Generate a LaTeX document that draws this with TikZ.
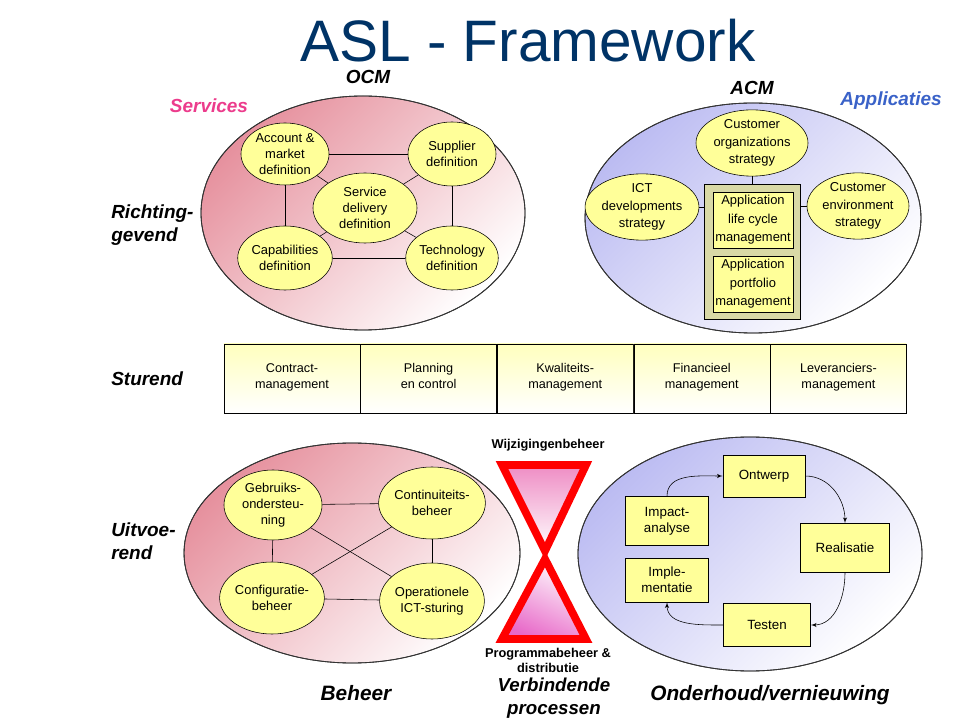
\documentclass[tikz,border=0pt]{standalone}
\usepackage{fontspec}
\setmainfont{Liberation Sans}
\usetikzlibrary{shapes,arrows,positioning}
\definecolor{titelblauw}{RGB}{0,51,102}
\definecolor{geel}{RGB}{255,255,153}
\definecolor{lichtgeel}{RGB}{255,255,190}
\definecolor{roze}{RGB}{230,145,158}
\definecolor{lila}{RGB}{188,188,242}
\definecolor{kaki}{RGB}{217,217,166}
\definecolor{servroze}{RGB}{236,60,140}
\definecolor{appblauw}{RGB}{58,98,200}
\definecolor{zandloper}{RGB}{238,140,196}
\definecolor{zandloper2}{RGB}{232,104,200}

\begin{document}
\begin{tikzpicture}[x=0.025cm,y=-0.025cm]
\tikzset{bol/.style = {shape=ellipse,draw,fill=geel,inner sep=0pt,align=center,font=\fontsize{9.2}{11.3}\selectfont}}
\tikzset{blok/.style = {shape=rectangle,draw,fill=geel,inner sep=0pt,align=center,font=\fontsize{9.5}{11.3}\selectfont}}
\tikzset{cel/.style = {draw,minimum width=3.4cm,minimum height=1.73cm,top color=lichtgeel,bottom color=white,align=center,inner sep=0pt,font=\fontsize{9}{11.3}\selectfont,execute at begin node=\strut,execute at end node=\strut}}
\tikzset{kop/.style = {inner sep=0pt,font=\fontsize{13.5}{16.3}\selectfont\bfseries\itshape}}
\tikzset{veld/.style = {draw=black!80,line width=0.6pt}}
\tikzset{pijl/.style = {->,> = latex'}}
\useasboundingbox (0,0) rectangle (960,720);

% title
\node[anchor=base,inner sep=0pt,text=titelblauw,font=\fontsize{41.6}{48}\selectfont] (titel) at (528,62) {ASL - Framework};

% large fields
\shade[veld,bottom color=white,top color=roze,shading angle=45] (363,213) ellipse [x radius=162,y radius=117];
\shade[veld,bottom color=white,top color=lila,shading angle=45] (753,218) ellipse [x radius=168,y radius=115];
\shade[veld,bottom color=white,top color=roze,shading angle=45] (352,553) ellipse [x radius=168,y radius=110];
\shade[veld,bottom color=white,top color=lila,shading angle=45] (750,554) ellipse [x radius=172,y radius=117];
\draw[veld] (363,213) ellipse [x radius=162,y radius=117];
\draw[veld] (753,218) ellipse [x radius=168,y radius=115];
\draw[veld] (352,553) ellipse [x radius=168,y radius=110];
\draw[veld] (750,554) ellipse [x radius=172,y radius=117];

% headings
\node[kop,anchor=base] (ocm) at (368,84) {OCM};
\node[kop,anchor=base] (acm) at (752,95) {ACM};
\node[kop,anchor=base,text=servroze] (srv) at (209,113) {Services};
\node[kop,anchor=base,text=appblauw] (app) at (891,106) {Applicaties};
\node[kop,anchor=west,align=left] (richt) at (111,225) {Richting-\\gevend};
\node[kop,anchor=base west] (stur) at (111,386) {Sturend};
\node[kop,anchor=west,align=left] (uitv) at (111,541) {Uitvoe-\\rend};
\node[kop,anchor=base,font=\fontsize{14.8}{17}\selectfont\bfseries\itshape] (beh) at (356,700) {Beheer};
\node[kop,anchor=base,font=\fontsize{14.8}{17}\selectfont\bfseries\itshape] (ond) at (770,700) {Onderhoud/vernieuwing};
\node[kop,align=center,font=\fontsize{13.3}{16.3}\selectfont\bfseries\itshape] (verb) at (554,698) {Verbindende\\processen};

% OCM
\node[bol,minimum width=2.6cm,minimum height=1.75cm] (sdd) at (365,208) {Service\\delivery\\definition};
\node[bol,minimum width=2.2cm,minimum height=1.55cm] (amd) at (285,154) {Account \&\\market\\definition};
\node[bol,minimum width=2.2cm,minimum height=1.6cm] (sup) at (452,154) {Supplier\\definition};
\node[bol,minimum width=2.2cm,minimum height=1.6cm] (cap) at (285,258) {Capabilities\\definition};
\node[bol,minimum width=2.2cm,minimum height=1.6cm] (tec) at (452,258) {Technology\\definition};
\draw (amd) -- (sup);
\draw (amd) -- (cap);
\draw (sup) -- (tec);
\draw (cap) -- (tec);
\draw (sdd) -- (amd);
\draw (sdd) -- (sup);
\draw (sdd) -- (cap);
\draw (sdd) -- (tec);

% ACM
\node[bol,minimum width=2.8cm,minimum height=1.65cm,font=\fontsize{9.2}{12.5}\selectfont] (cos) at (752,143) {Customer\\organizations\\strategy};
\node[bol,minimum width=2.65cm,minimum height=1.5cm,font=\fontsize{9.2}{12.5}\selectfont] (ict) at (642,207) {ICT\\developments\\strategy};
\node[bol,minimum width=2.55cm,minimum height=1.5cm,font=\fontsize{9.2}{12.5}\selectfont] (ces) at (858,206) {Customer\\environment\\strategy};
\node[draw,fill=kaki,minimum width=2.4cm,minimum height=3.375cm,inner sep=0pt] (apb) at (752,251.5) {};
\node[blok,minimum width=2cm,minimum height=1.4cm,font=\fontsize{9.2}{13.2}\selectfont] (alm) at (753,220) {Application\\life cycle\\management};
\node[blok,minimum width=2cm,minimum height=1.4cm,font=\fontsize{9.2}{13.2}\selectfont] (apm) at (753,284) {Application\\portfolio\\management};
\draw (cos) -- (apb);
\draw (ict) -- (ict -| apb.west);
\draw (ces) -- (ces -| apb.east);

% sturende processen
\node[cel] (c1) at (292,378.5) {Contract-\\management};
\node[cel,right=0pt of c1] (c2) {Planning\\en control};
\node[cel,right=0pt of c2] (c3) {Kwaliteits-\\management};
\node[cel,right=0pt of c3] (c4) {Financieel\\management};
\node[cel,right=0pt of c4] (c5) {Leveranciers-\\management};

% beheer
\node[bol,minimum width=2.45cm,minimum height=1.75cm] (gbo) at (273,505) {Gebruiks-\\ondersteu-\\ning};
\node[bol,minimum width=2.4cm,minimum height=1.8cm] (cob) at (432,503) {Continuiteits-\\beheer};
\node[bol,minimum width=2.4cm,minimum height=1.8cm] (cfb) at (272,598) {Configuratie-\\beheer};
\node[bol,minimum width=2.4cm,minimum height=1.9cm] (ois) at (432,601) {Operationele\\ICT-sturing};
\draw (gbo) -- (cob);
\draw (gbo) -- (cfb);
\draw (cob) -- (ois);
\draw (cfb) -- (ois);
\draw (gbo) -- (ois);
\draw (cfb) -- (cob);

% verbindende processen
\shadedraw[draw=red,line width=5.5pt,top color=zandloper,bottom color=white] (502,465) -- (586,465) -- (545,551) -- cycle;
\shadedraw[draw=red,line width=5.5pt,top color=white,bottom color=zandloper2,shading angle=-25] (545,559) -- (586,639) -- (502,639) -- cycle;
\node[anchor=base,inner sep=0pt,font=\fontsize{9.1}{11}\selectfont\bfseries] (wijz) at (548,449) {Wijzigingenbeheer};
\node[align=center,inner sep=0pt,font=\fontsize{9.1}{10.6}\selectfont\bfseries] (prog) at (548,660) {Programmabeheer \&\\distributie};

% onderhoud
\node[blok,minimum width=2.05cm,minimum height=1.05cm] (ont) at (764,476) {Ontwerp};
\node[blok,minimum width=2.08cm,minimum height=1.23cm] (imp) at (667,521) {Impact-\\analyse};
\node[blok,minimum width=2.23cm,minimum height=1.23cm] (rea) at (845,548) {Realisatie};
\node[blok,minimum width=2.08cm,minimum height=1.1cm] (iml) at (667,580) {Imple-\\mentatie};
\node[blok,minimum width=2.18cm,minimum height=1.08cm] (tes) at (767,625) {Testen};
\draw[pijl] (imp.north) to[out=90,in=180] (ont.west);
\draw[pijl] (ont.east) to[out=0,in=90] (rea.north);
\draw[pijl] (rea.south) to[out=-90,in=0] (tes.east);
\draw[pijl] (tes.west) to[out=180,in=-90] (iml.south);

\end{tikzpicture}
\end{document}
